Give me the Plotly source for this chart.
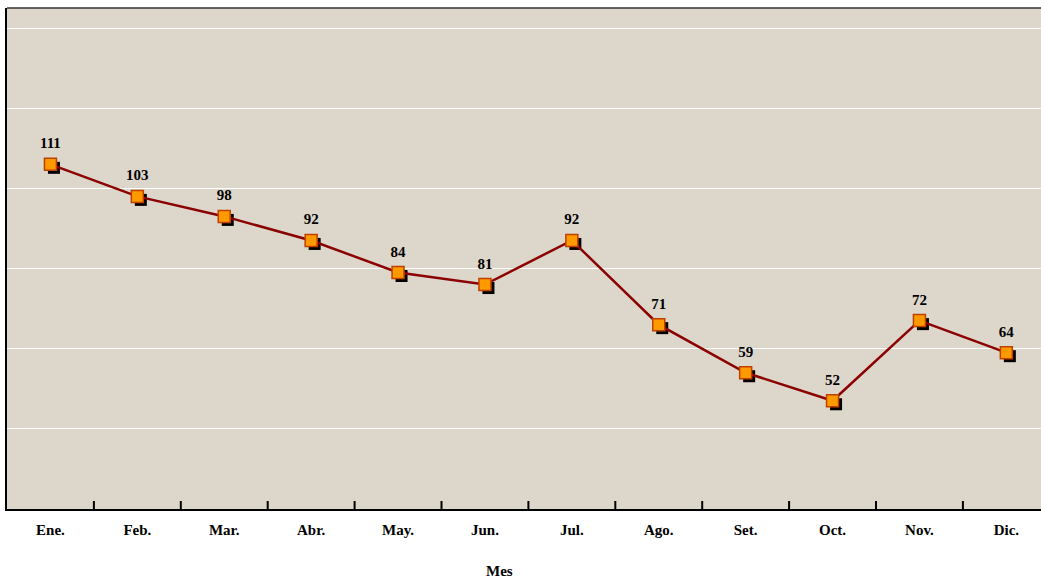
import plotly.graph_objects as go

months = ["Ene.", "Feb.", "Mar.", "Abr.", "May.", "Jun.", "Jul.", "Ago.", "Set.", "Oct.", "Nov.", "Dic."]
values = [111, 103, 98, 92, 84, 81, 92, 71, 59, 52, 72, 64]
x_title = "Mes"

W, H = 1044, 581
ml, mr, mt, mb = 7, 0, 8, 72
pw, ph = W - ml - mr, H - mt - mb
x0, x1 = -0.5, -0.5 + pw / 86.9
y0, y1 = 25, 150
dx = 3.5 * (x1 - x0) / pw
dy = 3.5 * (y1 - y0) / ph

idx = list(range(len(months)))
serif = "Liberation Serif, Times New Roman, serif"

fig = go.Figure()
fig.add_trace(go.Scatter(x=idx, y=values, mode="markers", xaxis="x2", yaxis="y2",
                         marker=dict(symbol="square", size=12, color="black", line=dict(width=0)),
                         hoverinfo="skip", showlegend=False))
fig.add_trace(go.Scatter(x=idx, y=values, mode="lines", xaxis="x3", yaxis="y3",
                         line=dict(color="#8B0000", width=2.5), showlegend=False))
fig.add_trace(go.Scatter(x=idx, y=values, mode="markers", xaxis="x3", yaxis="y3",
                         marker=dict(symbol="square", size=12, color="#FF9900",
                                     line=dict(color="#C04000", width=1.5)),
                         showlegend=False))
fig.add_trace(go.Scatter(x=idx, y=values, mode="text+markers", xaxis="x3", yaxis="y3",
                         text=[str(v) for v in values], textposition="top center",
                         textfont=dict(family=serif, size=15, color="black", weight="bold"),
                         marker=dict(size=18, color="rgba(0,0,0,0)"),
                         hoverinfo="skip", showlegend=False))

hidden = dict(visible=False, showline=False, showgrid=False, zeroline=False, ticks="", showticklabels=False)

fig.update_layout(
    width=W, height=H,
    margin=dict(l=ml, r=mr, t=mt, b=mb),
    paper_bgcolor="white",
    plot_bgcolor="#DDD6CB",
    xaxis=dict(range=[x0, x1], tickmode="array", tickvals=idx, ticktext=months,
               showgrid=False, zeroline=False, showline=True, linecolor="black", linewidth=2,
               ticks="", tickfont=dict(family=serif, size=15, color="black", weight="bold"),
               ticklabelstandoff=6),
    yaxis=dict(range=[y0, y1], tick0=25, dtick=20, showgrid=True, gridcolor="white", gridwidth=1.2,
               showticklabels=False, zeroline=False, showline=True, linecolor="black", linewidth=2,
               ticks=""),
    xaxis2=dict(range=[x0 - dx, x1 - dx], overlaying="x", **hidden),
    yaxis2=dict(range=[y0 + dy, y1 + dy], overlaying="y", **hidden),
    xaxis3=dict(range=[x0, x1], overlaying="x", **hidden),
    yaxis3=dict(range=[y0, y1], overlaying="y", **hidden),
)

fig.add_annotation(text=x_title, xref="paper", yref="paper", x=(499 - ml) / pw, y=0,
                   yshift=-62, xanchor="center", yanchor="middle", showarrow=False,
                   font=dict(family=serif, size=15, color="black", weight="bold"))

fig.add_shape(type="line", xref="paper", yref="paper", x0=0, x1=1, y0=1, y1=1,
              line=dict(color="#333333", width=1.5))
for k in range(1, len(months)):
    fig.add_shape(type="line", xref="x", yref="paper", x0=k - 0.5, x1=k - 0.5, y0=0, y1=8 / ph,
                  line=dict(color="black", width=2))

fig.write_html("out.html", config={"displayModeBar": False},
               post_script="document.body.style.margin='0px';document.body.style.overflow='hidden';")
